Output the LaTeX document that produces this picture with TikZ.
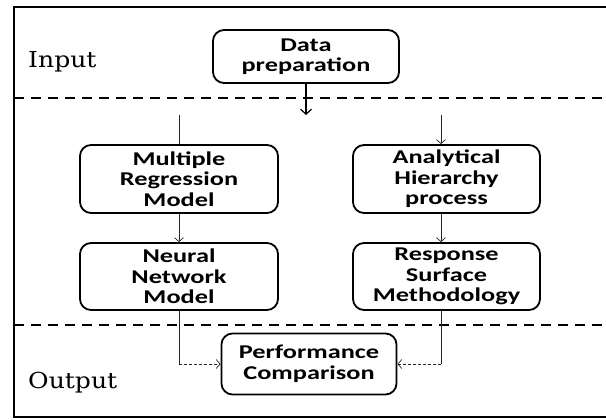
\documentclass[tikz,border=0pt]{standalone}
\usepackage{fontspec}
\newfontfamily\boxfont{Carlito}[FakeStretch=1.35]
\newfontfamily\zonefont{DejaVu Serif}[FakeStretch=1.14]
\usetikzlibrary{arrows.meta}

\begin{document}
\begin{tikzpicture}[x=1pt,y=-1pt,
  stage/.style={draw, line width=1.8pt, rounded corners=11pt, align=center,
    font=\boxfont\bfseries\fontsize{19.5}{20.5}\selectfont, inner sep=0pt},
  zone/.style={font=\zonefont\fontsize{22}{26}\selectfont, anchor=base west, inner sep=0pt},
  divider/.style={line width=2pt, dash pattern=on 10pt off 7pt},
  link/.style={line width=0.7pt, black!85},
  shortdash/.style={dash pattern=on 3pt off 2pt},
  tip/.style={-{Straight Barb[length=4pt,width=9pt]}},
  bigtip/.style={-{Straight Barb[length=5pt,width=11pt]}},
]
\useasboundingbox (0,0) rectangle (606,420);

% outer frame, open on the right
\draw[line width=1.8pt] (606,7) -- (14,7) -- (14,417) -- (606,417);

% zone separators
\draw[divider] (14,98) -- (606,98);
\draw[divider] (14,325) -- (606,325);

% zone labels
\node[zone] (inlabel) at (28,68) {Input};
\node[zone] (outlabel) at (28,388) {Output};

% stages
\node[stage, minimum width=186pt, minimum height=53pt] (dp) at (306,56.5) {Data\\preparation};
\node[stage, minimum width=198pt, minimum height=68pt] (mrm) at (179,179) {Multiple\\Regression\\Model};
\node[stage, minimum width=198pt, minimum height=67pt] (nnm) at (179,276.5) {Neural\\Network\\Model};
\node[stage, minimum width=187pt, minimum height=68pt] (ahp) at (446.5,179) {Analytical\\Hierarchy\\process};
\node[stage, minimum width=187pt, minimum height=67pt] (rsm) at (446.5,276.5) {Response\\Surface\\Methodology};
\node[stage, minimum width=175pt, minimum height=61pt] (pc) at (309,364) {Performance\\Comparison};

% branching points
\coordinate (split) at (306,115);
\coordinate (mrmin) at (179,115);
\coordinate (ahpin) at (441,115);

% connectors
\draw[line width=1.2pt, bigtip] (dp.south) -- (split);
\draw[link] (mrmin) -- (mrm.north);
\draw[link, tip] (ahpin) -- (ahpin |- ahp.north);
\draw[link, tip] (mrm.south) -- (nnm.north);
\draw[link, tip] (ahpin |- ahp.south) -- (ahpin |- rsm.north);

\coordinate (nnmturn) at (nnm.south |- pc.west);
\draw[link] (nnm.south) -- (nnmturn);
\draw[link, shortdash, tip] (nnmturn) -- (pc.west);

\coordinate (rsmturn) at (ahpin |- pc.east);
\draw[link] (ahpin |- rsm.south) -- (rsmturn);
\draw[link, shortdash, tip] (rsmturn) -- (pc.east);
\end{tikzpicture}
\end{document}
